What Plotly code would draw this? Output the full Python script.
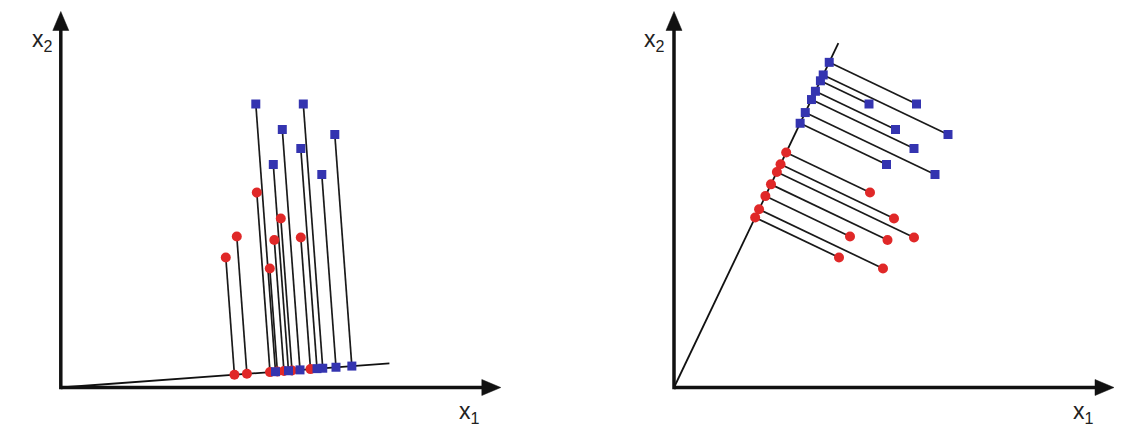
import numpy as np
import plotly.graph_objects as go

# ---- data (same two classes shown in both panels) ----
blue_x1 = [3.90, 4.85, 4.43, 5.48, 4.80, 4.25, 5.22]
blue_x2 = [5.67, 5.67, 5.16, 5.06, 4.78, 4.46, 4.26]
red_x1 = [3.92, 4.40, 3.52, 4.27, 4.80, 3.30, 4.18]
red_x2 = [3.90, 3.38, 3.02, 2.95, 3.00, 2.60, 2.38]

# projection directions (degrees) and drawn length of the projection line
proj_angle = [4.21, 64.48]
proj_len = [6.59, 7.63]

axis_x_tip = 8.80
axis_y_tip = 7.52
BLUE = "#3434b0"
RED = "#e02828"
INK = "#111111"

fig = go.Figure()
shapes = []
annotations = []

for k, (ang, L) in enumerate(zip(proj_angle, proj_len)):
    xa = "x" if k == 0 else "x2"
    ya = "y" if k == 0 else "y2"
    u = np.array([np.cos(np.radians(ang)), np.sin(np.radians(ang))])

    def proj(px, py):
        P = np.column_stack([px, py])
        t = P @ u
        return t[:, None] * u[None, :]

    bp = proj(blue_x1, blue_x2)
    rp = proj(red_x1, red_x2)

    # projection direction line
    fig.add_trace(go.Scatter(x=[0, L * u[0]], y=[0, L * u[1]], mode="lines",
                             line=dict(color=INK, width=1.8), xaxis=xa, yaxis=ya,
                             showlegend=False, hoverinfo="skip"))
    # connector lines
    lx, ly = [], []
    for px, py, pr in [(blue_x1, blue_x2, bp), (red_x1, red_x2, rp)]:
        for i in range(len(px)):
            lx += [px[i], pr[i, 0], None]
            ly += [py[i], pr[i, 1], None]
    fig.add_trace(go.Scatter(x=lx, y=ly, mode="lines", line=dict(color="#1a1a1a", width=1.7),
                             xaxis=xa, yaxis=ya, showlegend=False, hoverinfo="skip"))
    # projected points
    fig.add_trace(go.Scatter(x=rp[:, 0], y=rp[:, 1], mode="markers",
                             marker=dict(color=RED, size=10, symbol="circle"),
                             xaxis=xa, yaxis=ya, showlegend=False))
    fig.add_trace(go.Scatter(x=bp[:, 0], y=bp[:, 1], mode="markers",
                             marker=dict(color=BLUE, size=9, symbol="square"),
                             xaxis=xa, yaxis=ya, showlegend=False))
    # original points
    fig.add_trace(go.Scatter(x=red_x1, y=red_x2, mode="markers",
                             marker=dict(color=RED, size=10, symbol="circle"),
                             xaxis=xa, yaxis=ya, showlegend=False))
    fig.add_trace(go.Scatter(x=blue_x1, y=blue_x2, mode="markers",
                             marker=dict(color=BLUE, size=9, symbol="square"),
                             xaxis=xa, yaxis=ya, showlegend=False))

    # axes with arrowheads
    alen, ahw = 0.38, 0.16
    shapes.append(dict(type="line", xref=xa, yref=ya, x0=0, y0=0, x1=axis_x_tip - alen + 0.02, y1=0,
                       line=dict(color=INK, width=3.5)))
    shapes.append(dict(type="line", xref=xa, yref=ya, x0=0, y0=-0.035, x1=0, y1=axis_y_tip - alen + 0.02,
                       line=dict(color=INK, width=3.5)))
    shapes.append(dict(type="path", xref=xa, yref=ya,
                       path=f"M{axis_x_tip - alen},{-ahw} L{axis_x_tip},0 L{axis_x_tip - alen},{ahw} Z",
                       fillcolor=INK, line=dict(color=INK, width=0.5)))
    shapes.append(dict(type="path", xref=xa, yref=ya,
                       path=f"M{-ahw},{axis_y_tip - alen} L0,{axis_y_tip} L{ahw},{axis_y_tip - alen} Z",
                       fillcolor=INK, line=dict(color=INK, width=0.5)))
    # axis labels
    annotations.append(dict(xref=xa, yref=ya, x=-0.62 if k == 0 else -0.64, y=6.95,
                            text="x<sub>2</sub>", showarrow=False, xanchor="left", yanchor="middle",
                            font=dict(family="Liberation Sans, Arial", size=23, color="#222")))
    annotations.append(dict(xref=xa, yref=ya, x=7.93 if k == 0 else 7.94, y=-0.50,
                            text="x<sub>1</sub>", showarrow=False, xanchor="left", yanchor="middle",
                            font=dict(family="Liberation Sans, Arial", size=23, color="#222")))

ax_common = dict(visible=False, showgrid=False, zeroline=False, fixedrange=True)
fig.update_layout(
    width=1134, height=438,
    margin=dict(l=0, r=0, t=0, b=0),
    paper_bgcolor="white", plot_bgcolor="white",
    xaxis=dict(domain=[0, 0.5], range=[-1.216, 10.124], **ax_common),
    yaxis=dict(domain=[0, 1], range=[-1.01, 7.75], **ax_common),
    xaxis2=dict(domain=[0.5, 1], range=[-2.14, 9.20], **ax_common),
    yaxis2=dict(domain=[0, 1], range=[-1.01, 7.75], anchor="x2", **ax_common),
    shapes=shapes, annotations=annotations,
)
fig.write_html("out.html", config={"displayModeBar": False},
               post_script="document.body.style.margin='0';document.body.style.overflow='hidden';")
